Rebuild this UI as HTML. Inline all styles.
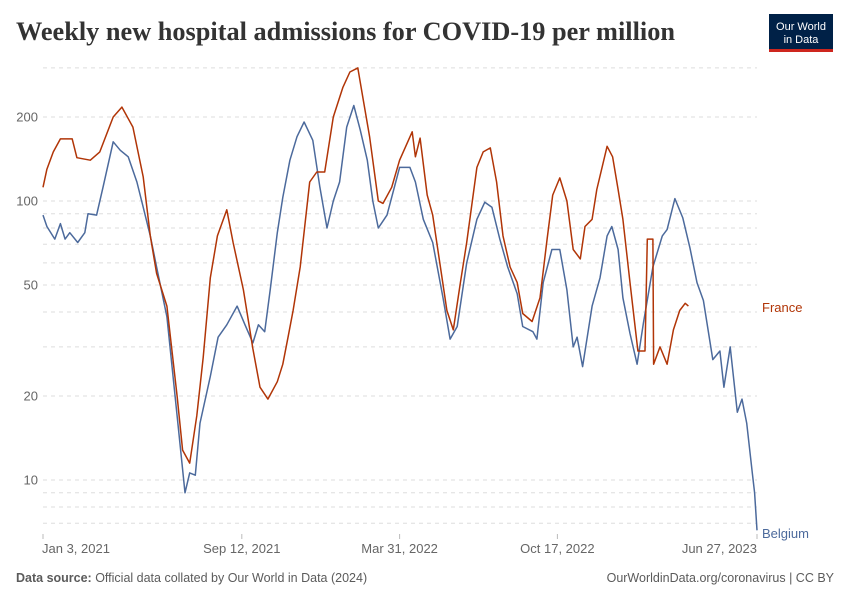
<!DOCTYPE html>
<html><head><meta charset="utf-8"><style>
body{margin:0;background:#fff;}
svg text{font-family:"Liberation Sans",sans-serif;}
</style></head><body>
<svg id="c" width="850" height="600" viewBox="0 0 850 600">
<text x="16" y="40" textLength="659" lengthAdjust="spacingAndGlyphs" style="font-family:'Liberation Serif',serif;font-weight:bold;font-size:26px;fill:#333">Weekly new hospital admissions for COVID-19 per million</text>
<g>
<rect x="769" y="14" width="64" height="38" fill="#002147"/>
<rect x="769" y="49" width="64" height="3" fill="#ce261e"/>
<text x="801" y="30" text-anchor="middle" style="font-size:11px;fill:#fff">Our World</text>
<text x="801" y="43" text-anchor="middle" style="font-size:11px;fill:#fff">in Data</text>
</g>
<g id="grid"></g><g id="yl"></g><g id="xl"></g><g id="lines"></g>
<text x="762" y="312" style="font-size:13px;fill:#b13507">France</text>
<text x="762" y="538" style="font-size:13px;fill:#4c6a9c">Belgium</text>
<text x="16" y="582" style="font-size:12.5px;fill:#5b5b5b"><tspan font-weight="bold">Data source:</tspan> Official data collated by Our World in Data (2024)</text>
<text x="834" y="582" text-anchor="end" style="font-size:12.5px;fill:#5b5b5b">OurWorldinData.org/coronavirus | CC BY</text>
</svg>
<script>
const gridValues=[7,8,9,10,20,30,40,50,60,70,80,90,100,200,300];
const yTickLabels=[10,20,50,100,200];
const xTickDays=[0,252,452,652,905];
const xTickLabels=["Jan 3, 2021","Sep 12, 2021","Mar 31, 2022","Oct 17, 2022","Jun 27, 2023"];
const franceDays=[0,5,13,22,37,43,60,72,89,100,114,127,136,144,157,170,177,186,195,203,212,221,233,241,254,266,275,285,297,304,311,317,326,338,347,357,368,380,389,399,406,414,425,431,442,452,468,472,478,487,494,503,512,520,529,537,550,558,567,575,583,592,601,608,620,630,639,646,655,664,672,681,687,696,702,715,722,729,735,744,754,763,766,773,774,782,791,799,807,814,818];
const franceValues=[112,130,150,167,167,143,140,150,200,217,184,122,75,55,42,20,12.8,11.5,17,27.5,53,75,93,71,48,29.5,21.5,19.5,22.5,26,33,40.5,58,117,127,127,200,255,290,300,230,170,100,98,112,140,177,144,168,105,89,60,40.5,34.5,51,71,132,150,155,117,75,58,51,39.5,37,45,73,105,121,100,67,62,81,86,110,157,144,110,86,51,29,29,73,73,26,30,26,34.5,40.5,43,42];
const belgiumDays=[0,5,15,22,28,34,44,53,57,68,76,89,98,108,119,127,136,144,157,170,180,186,193,199,212,222,233,246,256,266,273,281,288,297,304,313,322,331,342,351,360,368,376,385,394,402,411,418,425,436,452,465,472,482,494,507,516,525,537,550,560,569,579,589,601,608,621,626,634,645,655,664,672,677,684,696,706,715,721,729,735,744,753,761,773,785,791,801,811,820,829,837,849,858,863,871,880,886,892,899,902,905];
const belgiumValues=[89,81,73,83,73,77,71,77,90,89,112,163,152,144,117,95,75,58,38.5,17,9,10.6,10.4,16,23.5,32.5,36,42,36,31,36,34,48,77,103,140,170,192,165,112,80,100,117,184,220,180,140,100,80,89,132,132,117,86,71,45,32,35.5,60,86,99,95,73,58,46.5,35.5,34,32,51,67,67,48,30,32.5,25.5,42,53,75,81,67,45,33.5,26,36.5,58,75,79,102,87,68,51,44,27,29,21.5,30,17.5,19.5,16,10.6,9,6.6];

const NS="http://www.w3.org/2000/svg";
const X0=43,X1=757,DMAX=905;
const xs=d=>X0+(X1-X0)*d/DMAX;
const ys=v=>480-279*Math.log10(v/10);
function mk(tag,attrs,parent){const e=document.createElementNS(NS,tag);for(const k in attrs)e.setAttribute(k,attrs[k]);parent.appendChild(e);return e;}
const grid=document.getElementById('grid');
gridValues.forEach(v=>{
  const l=mk('line',{x1:X0,x2:X1,y1:ys(v),y2:ys(v),stroke:'#ddd','stroke-dasharray':'4,4','stroke-width':1},grid);
  
  
});
const yl=document.getElementById('yl');
yTickLabels.forEach(v=>{
  const t=mk('text',{x:38,y:ys(v)+4.5,'text-anchor':'end',style:'font-size:13px;fill:#666'},yl);
  t.textContent=v;
  
  
});
const xl=document.getElementById('xl');
xTickDays.forEach((d,i)=>{
  const tk=mk('line',{x1:xs(d),x2:xs(d),y1:534,y2:539,stroke:'#bbb'},xl);
  
  
  const anchor=i===0?'start':(i===xTickDays.length-1?'end':'middle');
  const t=mk('text',{x:i===0?X0-1:xs(d),y:553,'text-anchor':anchor,style:'font-size:13px;fill:#666'},xl);
  t.textContent=xTickLabels[i];
  
  
});
const lines=document.getElementById('lines');
function path(days,vals,color,name){
  const n=Math.min(days.length,vals.length);
  let d='';
  for(let i=0;i<n;i++)d+=(i?'L':'M')+xs(days[i]).toFixed(1)+','+ys(vals[i]).toFixed(1);
  const p=mk('path',{d:d,fill:'none',stroke:color,'stroke-width':1.5,'stroke-linejoin':'round'},lines);
  
  
}
path(belgiumDays,belgiumValues,'#4c6a9c','belgium-line');
path(franceDays,franceValues,'#b13507','france-line');
</script>
</body></html>
